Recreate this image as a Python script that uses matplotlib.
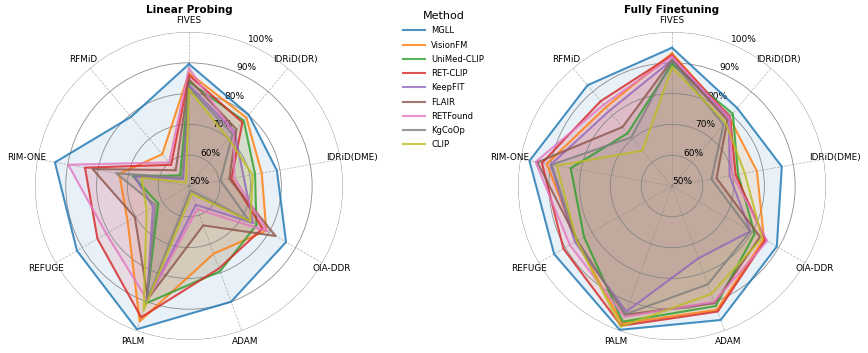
import numpy as np
import matplotlib
matplotlib.use("Agg")
import matplotlib.pyplot as plt

# categories (clockwise from top)
datasets = ['FIVES', 'IDRiD(DR)', 'IDRiD(DME)', 'OIA-DDR', 'ADAM', 'PALM', 'REFUGE', 'RIM-ONE', 'RFMiD']
methods = ['MGLL', 'VisionFM', 'UniMed-CLIP', 'RET-CLIP', 'KeepFIT', 'FLAIR', 'RETFound', 'KgCoOp', 'CLIP']
colors = ['tab:blue', 'tab:orange', 'tab:green', 'tab:red', 'tab:purple',
          'tab:brown', 'tab:pink', 'tab:gray', 'tab:olive']

# Linear probing scores (%)
lp_mgll = [89.6, 80.2, 79.0, 86.4, 90.0, 99.5, 92.0, 94.2, 79.3]
lp_visionfm = [86.7, 79.0, 74.0, 79.0, 73.4, 96.8, 73.0, 73.0, 63.5]
lp_unimed = [83.8, 77.7, 71.8, 75.3, 79.5, 90.5, 61.5, 68.5, 54.5]
lp_retclip = [86.0, 77.0, 64.0, 77.6, 78.5, 95.4, 84.3, 84.3, 59.0]
lp_keepfit = [82.8, 73.0, 68.0, 74.0, 56.5, 90.0, 63.5, 68.0, 53.0]
lp_flair = [84.7, 74.0, 63.3, 82.5, 63.6, 89.0, 70.3, 81.8, 56.7]
lp_retfound = [88.3, 72.5, 65.0, 79.4, 58.0, 89.5, 81.0, 89.8, 60.0]
lp_kgcoop = [82.0, 72.0, 60.4, 72.6, 51.5, 90.0, 62.5, 74.0, 53.5]
lp_clip = [81.3, 70.0, 71.0, 73.0, 52.7, 93.0, 65.9, 65.6, 51.5]

# Fully finetuning scores (%)
ft_mgll = [94.9, 83.0, 86.2, 89.3, 96.3, 99.7, 94.2, 97.0, 92.7]
ft_visionfm = [93.1, 79.0, 78.0, 84.5, 92.8, 97.5, 85.7, 91.3, 83.4]
ft_unimed = [89.6, 80.7, 71.8, 81.0, 91.5, 96.9, 83.0, 83.4, 72.4]
ft_retclip = [92.5, 79.3, 71.0, 85.0, 93.4, 98.3, 90.7, 92.9, 86.0]
ft_keepfit = [90.9, 78.8, 69.0, 79.4, 75.0, 93.4, 86.4, 90.0, 81.8]
ft_flair = [90.9, 78.0, 64.7, 83.0, 90.5, 94.5, 85.5, 94.4, 75.0]
ft_retfound = [92.0, 79.0, 70.0, 85.7, 90.0, 95.2, 88.3, 95.0, 84.5]
ft_kgcoop = [90.7, 76.0, 63.0, 79.4, 84.0, 94.3, 85.7, 89.7, 70.6]
ft_clip = [88.5, 77.0, 74.0, 83.8, 87.3, 98.6, 85.7, 88.0, 65.0]

lp_scores = [lp_mgll, lp_visionfm, lp_unimed, lp_retclip, lp_keepfit, lp_flair, lp_retfound, lp_kgcoop, lp_clip]
ft_scores = [ft_mgll, ft_visionfm, ft_unimed, ft_retclip, ft_keepfit, ft_flair, ft_retfound, ft_kgcoop, ft_clip]

r_ticks = [50, 60, 70, 80, 90, 100]


def radar(ax, scores):
    angles = np.linspace(0, 2 * np.pi, len(datasets), endpoint=False).tolist()
    angles += angles[:1]
    ax.set_theta_offset(np.pi / 2)
    ax.set_theta_direction(-1)
    for vals, name, c in zip(scores, methods, colors):
        v = list(vals) + vals[:1]
        ax.plot(angles, v, color=c, linewidth=1.5, alpha=0.8, label=name)
        ax.fill(angles, v, color=c, alpha=0.1)
    ax.set_ylim(50, 100)
    ax.set_yticks(r_ticks)
    ax.set_yticklabels([f'{t}%' for t in r_ticks], fontsize=6.5)
    ax.set_xticks(angles[:-1])
    ax.set_xticklabels(datasets, fontsize=6.4)
    ax.tick_params(axis='x', pad=-2.5)
    ax.xaxis.grid(True, linestyle='--', color='gray', linewidth=0.5, alpha=0.6)
    ax.yaxis.grid(True, linestyle='-', color='gray', linewidth=0.6, alpha=0.9)
    ax.spines['polar'].set_visible(False)


fig = plt.figure(figsize=(8.68, 3.53), dpi=100)
ax1 = fig.add_axes([0.0403, 0.0368, 0.3548, 0.8725], projection='polar')
ax2 = fig.add_axes([0.5968, 0.0368, 0.3548, 0.8725], projection='polar')
radar(ax1, lp_scores)
radar(ax2, ft_scores)
fig.text(0.2177, 0.972, 'Linear Probing', ha='center', va='center', fontsize=7.5, fontweight='bold')
fig.text(0.7740, 0.972, 'Fully Finetuning', ha='center', va='center', fontsize=7.5, fontweight='bold')

handles, labels = ax1.get_legend_handles_labels()
fig.legend(handles, labels, title='Method', loc='upper center', bbox_to_anchor=(0.511, 0.99),
           frameon=False, fontsize=6, title_fontsize=8, handlelength=2.7, handletextpad=0.7,
           labelspacing=0.63)

fig.savefig('out.png', dpi=100)
